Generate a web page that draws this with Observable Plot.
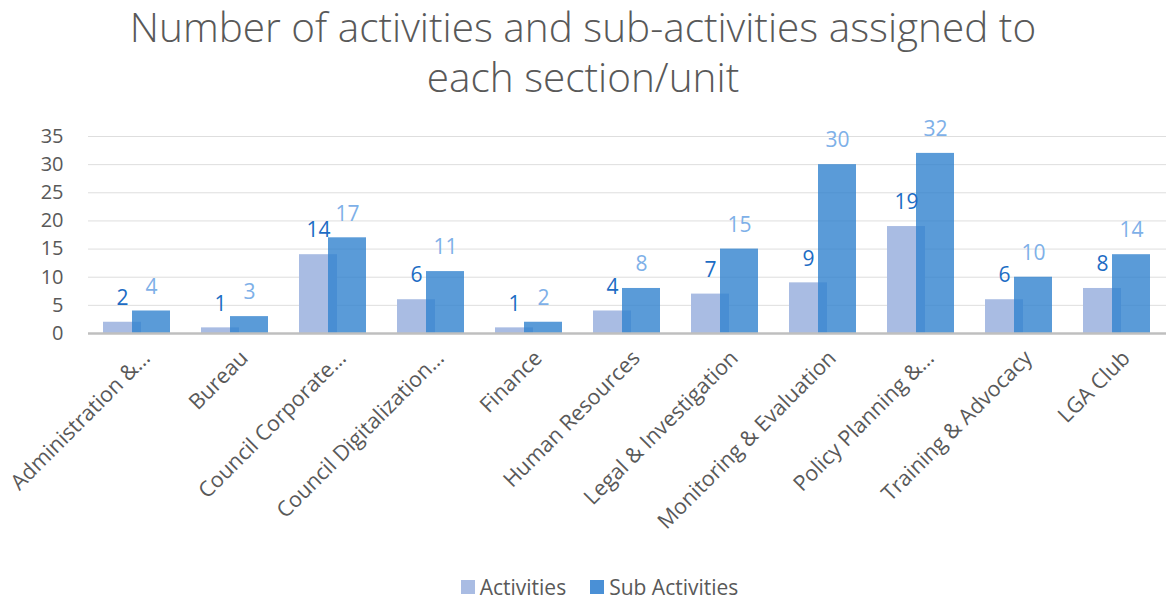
<!DOCTYPE html>
<html><head><meta charset="utf-8">
<script src="https://cdn.jsdelivr.net/npm/d3@7"></script>
<script src="https://cdn.jsdelivr.net/npm/@observablehq/plot@0.6"></script>
<style>
body{margin:0;background:#fff;font-family:"Open Sans",Lato,sans-serif;width:1166px;height:600px;overflow:hidden;}
#title{font-size:40.5px;line-height:50px;padding-top:2px;text-align:center;color:#595959;font-weight:300;width:1166px;height:100px;}
#chart{height:455px;}
#legend{display:flex;justify-content:center;align-items:center;margin-top:17px;padding-left:33px;font-size:21px;color:#595959;line-height:26px;}
.item{display:flex;align-items:center;margin:0 12px;}
.sw{width:14px;height:14px;margin-right:5px;display:inline-block;}
</style></head><body>
<div id="title">Number of activities and sub-activities assigned to<br>each section/unit</div>
<div id="chart"></div>
<div id="legend"></div>
<script>
const categories = ["Administration &…","Bureau","Council Corporate…","Council Digitalization…","Finance","Human Resources","Legal & Investigation","Monitoring & Evaluation","Policy Planning &…","Training & Advocacy","LGA Club"];
const activities = [2,1,14,6,1,4,7,9,19,6,8];
const subActivities = [4,3,17,11,2,8,15,30,32,10,14];
const yTicks = [0,5,10,15,20,25,30,35];
const seriesNames = ["Activities","Sub Activities"];
const seriesColors = ["#A9BCE3","#4A90D6"];

const rows = categories.map((c,i)=>({category:c, activities:activities[i], sub:subActivities[i]}));

const chart = Plot.plot({
  width:1166, height:455,
  marginLeft:88, marginRight:0, marginTop:34, marginBottom:224,
  style:{fontFamily:"'Open Sans', Lato, sans-serif", fontSize:"20px", color:"#595959", background:"white", overflow:"visible"},
  x:{domain:categories, padding:0},
  y:{domain:[0,35]},
  marks:[
    Plot.gridY(yTicks,{stroke:"#DEDEDE", strokeOpacity:1, strokeWidth:1}),
    Plot.barY(rows,{x:"category", y:"activities", fill:seriesColors[0], insetLeft:15, insetRight:45}),
    Plot.barY(rows,{x:"category", y:"sub", fill:"#3182CE", fillOpacity:0.8, insetLeft:44, insetRight:16}),
    Plot.ruleY([0],{stroke:"#BFBFBF", strokeWidth:2.5}),
    Plot.text(rows,{x:"category", y:"activities", text:d=>String(d.activities), dx:-15, dy:-24, fill:"#1C6CC4", fontSize:21}),
    Plot.text(rows,{x:"category", y:"sub", text:d=>String(d.sub), dx:14, dy:-24, fill:"#7EB0E8", fontSize:21}),
    Plot.axisY({ticks:yTicks, tickSize:0, tickPadding:25, label:null, fontSize:20}),
    Plot.axisX({tickRotate:-45, tickSize:0, tickPadding:21, dx:9, label:null, fontSize:21.5})
  ]
});
document.getElementById("chart").appendChild(chart);

const legend = document.getElementById("legend");
seriesNames.forEach((n,i)=>{
  const it = document.createElement("div"); it.className="item";
  const sw = document.createElement("span"); sw.className="sw"; sw.style.background = seriesColors[i];
  it.appendChild(sw); it.appendChild(document.createTextNode(n));
  legend.appendChild(it);
});
</script>
</body></html>
